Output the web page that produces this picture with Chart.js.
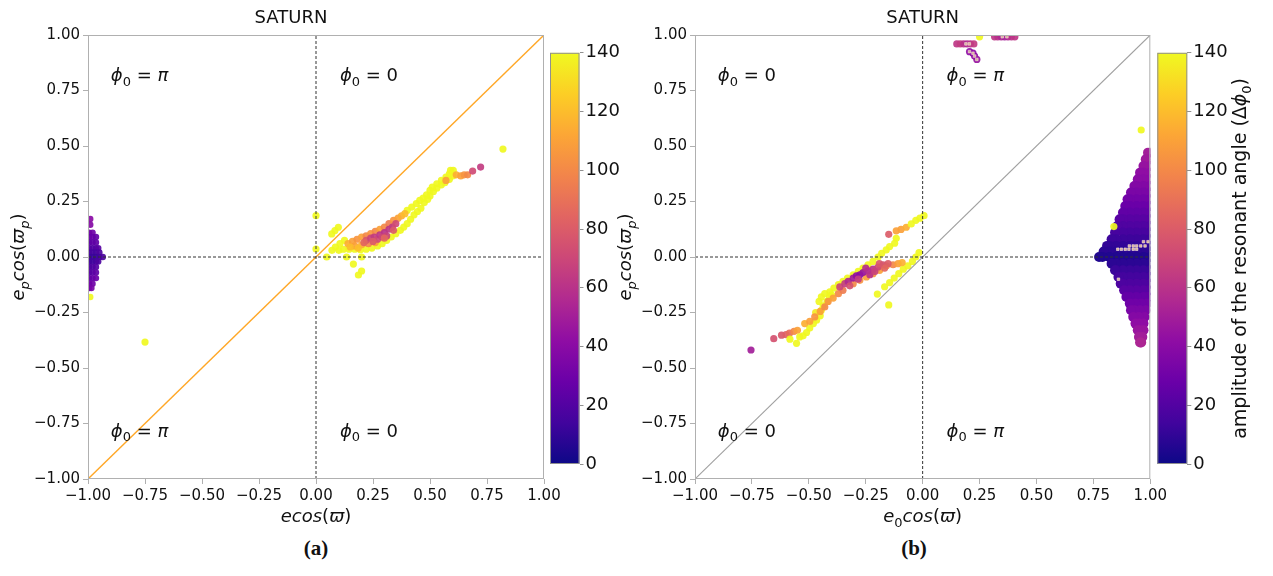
<!DOCTYPE html>
<html>
<head>
<meta charset="utf-8">
<script src="https://cdn.jsdelivr.net/npm/chart.js@4.4.1/dist/chart.umd.min.js"></script>
<style>
  body { margin: 0; background: #fff; width: 1273px; height: 576px; position: relative; overflow: hidden; }
  canvas { position: absolute; }
  .tag { position: absolute; top: 536px; font: bold 21px "Liberation Serif", serif; color: #111; transform: translateX(-50%); }
</style>
</head>
<body>
<canvas id="panelA" width="565" height="530" style="left:0;top:0;width:565px;height:530px"></canvas>
<canvas id="panelB" width="570" height="530" style="left:600px;top:0;width:570px;height:530px"></canvas>
<canvas id="barA" width="80" height="440" style="left:540px;top:40px;width:80px;height:440px"></canvas>
<canvas id="barB" width="126" height="440" style="left:1147px;top:40px;width:126px;height:440px"></canvas>
<div class="tag" style="left:316px">(a)</div>
<div class="tag" style="left:914px">(b)</div>
<script>
// axis ticks
const axisTicks = [-1, -0.75, -0.5, -0.25, 0, 0.25, 0.5, 0.75, 1];
const colorTicks = [0, 20, 40, 60, 80, 100, 120, 140];
const ampMax = 140;

// panel (a): [e cos(varpi), e_p cos(varpi_p), amplitude]
const aEdge = [
  [-0.99, 0.171, 40], [-0.99, 0.145, 38],
  [-0.995, 0.11, 32], [-0.98, 0.11, 30],
  [-0.995, 0.09, 28], [-0.98, 0.09, 28], [-0.965, 0.09, 26],
  [-0.995, 0.065, 25], [-0.98, 0.065, 24], [-0.965, 0.065, 24],
  [-0.995, 0.04, 22], [-0.98, 0.04, 20], [-0.965, 0.04, 20], [-0.955, 0.04, 22],
  [-0.995, 0.02, 18], [-0.98, 0.02, 16], [-0.965, 0.02, 15], [-0.95, 0.02, 18],
  [-0.995, 0.0, 15], [-0.98, 0.0, 12], [-0.965, 0.0, 12], [-0.95, 0.0, 14], [-0.935, 0.0, 18],
  [-0.995, -0.02, 16], [-0.98, -0.02, 14], [-0.965, -0.02, 15], [-0.955, -0.02, 18],
  [-0.995, -0.045, 20], [-0.98, -0.045, 18], [-0.965, -0.045, 20],
  [-0.995, -0.07, 23], [-0.98, -0.07, 22], [-0.965, -0.07, 24],
  [-0.995, -0.095, 26], [-0.98, -0.095, 26], [-0.965, -0.095, 28],
  [-0.995, -0.12, 30], [-0.98, -0.12, 30],
  [-0.995, -0.14, 34], [-0.985, -0.14, 33],
  [-0.99, -0.18, 140]
];
const aBand = [
  // outer (yellow)
  [0.10, 0.03, 140], [0.12, 0.035, 140], [0.145, 0.035, 140], [0.17, 0.035, 140], [0.195, 0.033, 140],
  [0.22, 0.035, 140], [0.245, 0.04, 140], [0.27, 0.05, 140], [0.29, 0.06, 140], [0.31, 0.075, 140],
  [0.33, 0.09, 140], [0.35, 0.105, 140], [0.37, 0.12, 140], [0.385, 0.135, 140], [0.40, 0.15, 140],
  [0.415, 0.17, 140], [0.43, 0.19, 140], [0.445, 0.205, 140], [0.46, 0.22, 140], [0.475, 0.245, 140],
  [0.49, 0.26, 140], [0.50, 0.275, 140], [0.515, 0.295, 140], [0.53, 0.31, 140], [0.55, 0.325, 140],
  [0.565, 0.335, 140], [0.585, 0.35, 140], [0.60, 0.365, 140], [0.602, 0.39, 140],
  [0.07, 0.03, 140], [0.085, 0.045, 140], [0.105, 0.06, 140], [0.125, 0.075, 140],
  [0.40, 0.21, 140], [0.42, 0.225, 140], [0.44, 0.24, 140], [0.455, 0.255, 140], [0.47, 0.265, 140],
  [0.485, 0.28, 140], [0.50, 0.30, 140], [0.51, 0.315, 140], [0.53, 0.33, 140], [0.55, 0.345, 140],
  [0.57, 0.36, 140], [0.585, 0.375, 140], [0.59, 0.39, 140],
  // orange
  [0.14, 0.06, 115], [0.16, 0.07, 110], [0.18, 0.08, 105], [0.20, 0.09, 110], [0.22, 0.095, 100],
  [0.24, 0.105, 105], [0.26, 0.115, 100], [0.28, 0.125, 110], [0.30, 0.135, 100], [0.32, 0.15, 95],
  [0.34, 0.165, 105], [0.36, 0.175, 110], [0.375, 0.185, 115], [0.39, 0.195, 120], [0.17, 0.05, 110],
  [0.20, 0.055, 115], [0.185, 0.04, 120], [0.23, 0.06, 100], [0.26, 0.065, 110], [0.15, 0.045, 120],
  [0.615, 0.37, 115], [0.635, 0.365, 110], [0.65, 0.37, 105], [0.665, 0.37, 100], [0.57, 0.345, 110],
  // core
  [0.22, 0.075, 78], [0.24, 0.085, 70], [0.255, 0.09, 65], [0.27, 0.08, 72], [0.28, 0.10, 62],
  [0.30, 0.11, 60], [0.31, 0.095, 68], [0.32, 0.125, 62], [0.335, 0.135, 65], [0.35, 0.15, 72],
  [0.25, 0.07, 80], [0.29, 0.09, 70], [0.21, 0.065, 85], [0.34, 0.12, 80], [0.30, 0.085, 85],
  [0.687, 0.387, 72], [0.722, 0.405, 65]
];
const aStray = [
  [0.82, 0.486, 140], [0.0, 0.186, 140], [0.0, 0.036, 140], [0.069, 0.104, 140], [0.083, 0.119, 140],
  [0.098, 0.134, 140], [0.047, 0.0, 140], [0.134, 0.0, 140], [0.164, -0.032, 140], [0.2, 0.0, 140],
  [0.2, -0.063, 140], [0.186, -0.081, 140], [-0.75, -0.383, 140]
];

// panel (b): [e0 cos(varpi), e_p cos(varpi_p), amplitude]
const bBand = [
  [-0.754, -0.419, 50], [-0.654, -0.368, 75],
  [-0.62, -0.352, 78], [-0.60, -0.35, 82], [-0.585, -0.343, 88], [-0.565, -0.335, 100], [-0.55, -0.33, 110],
  [-0.583, -0.37, 140], [-0.554, -0.389, 140], [-0.54, -0.36, 140], [-0.525, -0.355, 140], [-0.51, -0.34, 140],
  [-0.496, -0.32, 140], [-0.48, -0.30, 140], [-0.466, -0.285, 140], [-0.45, -0.265, 140], [-0.445, -0.24, 140],
  [-0.437, -0.22, 140], [-0.42, -0.20, 140], [-0.41, -0.18, 140], [-0.40, -0.17, 140],
  [-0.47, -0.25, 135], [-0.455, -0.20, 140], [-0.445, -0.18, 140], [-0.43, -0.165, 140], [-0.408, -0.157, 140],
  [-0.39, -0.14, 140], [-0.37, -0.124, 140], [-0.35, -0.11, 140], [-0.33, -0.095, 140], [-0.305, -0.08, 140],
  [-0.283, -0.065, 140], [-0.262, -0.05, 140], [-0.24, -0.035, 140], [-0.218, -0.02, 140], [-0.196, 0.0, 140],
  [-0.18, 0.017, 140], [-0.16, 0.032, 140], [-0.145, 0.047, 140], [-0.123, 0.062, 140],
  [-0.167, -0.134, 140], [-0.145, -0.115, 140], [-0.125, -0.095, 140], [-0.105, -0.075, 140], [-0.085, -0.055, 140],
  [-0.065, -0.04, 140], [-0.045, -0.02, 140], [-0.03, 0.0, 140], [-0.016, 0.02, 140], [-0.199, -0.167, 140],
  [-0.149, -0.216, 140],
  [-0.518, -0.30, 115], [-0.496, -0.29, 110], [-0.474, -0.27, 105], [-0.45, -0.245, 110], [-0.43, -0.225, 100],
  [-0.415, -0.20, 105], [-0.393, -0.185, 110], [-0.37, -0.165, 100], [-0.35, -0.15, 95], [-0.305, -0.12, 100],
  [-0.276, -0.105, 105], [-0.247, -0.09, 110], [-0.218, -0.075, 105], [-0.189, -0.06, 110], [-0.16, -0.04, 105],
  [-0.13, -0.035, 100], [-0.108, -0.03, 110], [-0.09, -0.025, 115],
  [-0.364, -0.135, 70], [-0.342, -0.12, 65], [-0.327, -0.11, 55], [-0.305, -0.095, 48], [-0.291, -0.085, 42],
  [-0.276, -0.08, 40], [-0.262, -0.07, 45], [-0.24, -0.062, 55], [-0.218, -0.055, 60], [-0.196, -0.045, 70],
  [-0.174, -0.035, 75], [-0.152, -0.03, 80], [-0.232, -0.08, 60], [-0.283, -0.10, 65], [-0.21, -0.065, 68],
  [-0.167, -0.05, 85], [-0.19, -0.03, 78], [-0.25, -0.05, 58], [-0.32, -0.13, 75],
  [-0.149, 0.102, 80], [-0.116, 0.118, 110], [-0.095, 0.124, 110], [-0.072, 0.134, 115], [-0.05, 0.149, 140],
  [-0.03, 0.165, 140], [-0.012, 0.175, 140], [0.006, 0.186, 140], [-0.116, 0.084, 140]
];
const bTop = [
  [0.15, 0.96, 62], [0.165, 0.96, 65], [0.18, 0.96, 60], [0.195, 0.96, 55], [0.21, 0.96, 60], [0.225, 0.96, 65],
  [0.206, 0.925, 42], [0.221, 0.918, 42], [0.228, 0.905, 42], [0.238, 0.89, 45],
  [0.25, 0.992, 140],
  [0.316, 0.992, 62], [0.33, 0.992, 60], [0.345, 0.992, 55], [0.36, 0.992, 50], [0.375, 0.992, 55],
  [0.39, 0.992, 60], [0.405, 0.992, 62]
];
const bExtra = [[0.96, 0.572, 140], [0.84, 0.137, 140]];
// right-edge wedge, one row per e_p cos value: [y, amplitude, x...]
const bEdgeRows = [
  [0.47, 50, 1.0, 0.99],
  [0.44, 48, 1.0, 0.98],
  [0.41, 45, 1.0, 0.97],
  [0.38, 42, 1.0, 0.97, 0.955],
  [0.35, 40, 1.0, 0.97, 0.945],
  [0.32, 37, 1.0, 0.97, 0.94, 0.93],
  [0.29, 34, 1.0, 0.97, 0.94, 0.915],
  [0.26, 31, 1.0, 0.97, 0.94, 0.91, 0.90],
  [0.23, 28, 1.0, 0.97, 0.94, 0.91, 0.89],
  [0.20, 25, 1.0, 0.97, 0.94, 0.91, 0.88],
  [0.17, 22, 1.0, 0.97, 0.94, 0.91, 0.88, 0.865],
  [0.14, 19, 1.0, 0.97, 0.94, 0.91, 0.88, 0.855],
  [0.11, 16, 1.0, 0.97, 0.94, 0.91, 0.88, 0.845],
  [0.08, 13, 1.0, 0.97, 0.94, 0.91, 0.88, 0.85, 0.83],
  [0.05, 10, 1.0, 0.97, 0.94, 0.91, 0.88, 0.85, 0.82, 0.81],
  [0.025, 8, 1.0, 0.97, 0.94, 0.91, 0.88, 0.85, 0.82, 0.795],
  [0.0, 5, 1.0, 0.97, 0.94, 0.91, 0.88, 0.85, 0.82, 0.79, 0.775],
  [-0.03, 8, 1.0, 0.97, 0.94, 0.91, 0.88, 0.85, 0.83],
  [-0.06, 12, 1.0, 0.97, 0.94, 0.91, 0.88, 0.85, 0.845],
  [-0.09, 15, 1.0, 0.97, 0.94, 0.91, 0.88, 0.86],
  [-0.12, 18, 1.0, 0.97, 0.94, 0.91, 0.88, 0.87],
  [-0.15, 22, 0.995, 0.97, 0.94, 0.91, 0.885],
  [-0.18, 26, 0.99, 0.97, 0.94, 0.91, 0.895],
  [-0.21, 30, 0.985, 0.96, 0.935, 0.91],
  [-0.24, 34, 0.98, 0.955, 0.93, 0.915],
  [-0.27, 38, 0.975, 0.95, 0.925],
  [-0.30, 42, 0.97, 0.95, 0.935],
  [-0.33, 46, 0.97, 0.955, 0.945],
  [-0.36, 50, 0.965, 0.95],
  [-0.385, 54, 0.96, 0.955]
];
const bMarks = [
  [0.97, 0.069], [0.99, 0.069], [0.908, 0.05], [0.925, 0.05], [0.94, 0.05], [0.958, 0.05], [0.977, 0.05],
  [0.857, 0.035], [0.873, 0.035], [0.89, 0.035], [0.906, 0.035], [0.925, 0.035], [0.94, 0.035], [0.86, -0.1],
  [0.19, 0.96], [0.205, 0.96], [0.206, 0.925], [0.221, 0.918], [0.228, 0.905], [0.238, 0.89],
  [0.35, 0.992], [0.37, 0.992]
];

// phi_0 labels: [x, y, value]
const aNotes = [[-0.9, 0.82, 'π'], [0.105, 0.82, '0'], [-0.9, -0.78, 'π'], [0.105, -0.78, '0']];
const bNotes = [[-0.9, 0.82, '0'], [0.105, 0.82, 'π'], [-0.9, -0.78, '0'], [0.105, -0.78, 'π']];

const plasmaStops = ['#0d0887', '#41049d', '#6a00a8', '#8f0da4', '#b12a90', '#cc4778',
                     '#e16462', '#f2844b', '#fca636', '#fcce25', '#f0f921'];

function hexRgb(h) {
  return [parseInt(h.slice(1, 3), 16), parseInt(h.slice(3, 5), 16), parseInt(h.slice(5, 7), 16)];
}
function plasma(v, alpha) {
  const t = Math.max(0, Math.min(1, v / ampMax)) * (plasmaStops.length - 1);
  const i = Math.min(Math.floor(t), plasmaStops.length - 2);
  const f = t - i;
  const a = hexRgb(plasmaStops[i]), b = hexRgb(plasmaStops[i + 1]);
  const c = a.map((x, k) => Math.round(x + (b[k] - x) * f));
  return 'rgba(' + c.join(',') + ',' + alpha + ')';
}

const FAM = '"DejaVu Sans"';
Chart.defaults.font.family = FAM;
Chart.defaults.color = '#111';

function drawRich(ctx, parts, x, y, size, align, angle) {
  const small = Math.round(size * 0.7);
  const fonts = {
    r: size + 'px ' + FAM,
    i: 'italic ' + size + 'px ' + FAM,
    sub: small + 'px ' + FAM,
    isub: 'italic ' + small + 'px ' + FAM
  };
  let total = 0;
  const widths = parts.map(p => {
    ctx.font = fonts[p[1]];
    const w = ctx.measureText(p[0]).width;
    total += w;
    return w;
  });
  ctx.save();
  ctx.translate(x, y);
  if (angle) ctx.rotate(angle);
  ctx.textAlign = 'left';
  ctx.textBaseline = 'alphabetic';
  ctx.fillStyle = '#111';
  let cx = align === 'left' ? 0 : -total / 2;
  parts.forEach((p, k) => {
    ctx.font = fonts[p[1]];
    const dy = (p[1] === 'sub' || p[1] === 'isub') ? size * 0.24 : 0;
    ctx.fillText(p[0], cx, size * 0.36 + dy);
    cx += widths[k];
  });
  ctx.restore();
}

const panelDecor = {
  id: 'panelDecor',
  afterDatasetsDraw(chart, args, opts) {
    const { ctx, chartArea: a, scales } = chart;
    ctx.save();
    ctx.strokeStyle = '#b0b0b0';
    ctx.lineWidth = 1;
    ctx.strokeRect(a.left + 0.5, a.top + 0.5, a.width - 1, a.height - 1);
    opts.notes.forEach(n => {
      drawRich(ctx, [['ϕ', 'i'], ['0', 'sub'], [' = ', 'r'], [n[2], /\d/.test(n[2]) ? 'r' : 'i']],
        scales.x.getPixelForValue(n[0]), scales.y.getPixelForValue(n[1]), 18, 'left');
    });
    const cx = (a.left + a.right) / 2;
    drawRich(ctx, [['SATURN', 'r']], cx + opts.titleShift, 17, 18);
    drawRich(ctx, opts.xLabel, cx, a.bottom + 37, 18);
    drawRich(ctx, opts.yLabel, a.left - 70, (a.top + a.bottom) / 2, 18, 'center', -Math.PI / 2);
    ctx.restore();
  }
};

function pointSet(rows, order, radius, alpha) {
  const r = radius || 3.6;
  return {
    data: rows.map(p => ({ x: p[0], y: p[1] })),
    pointBackgroundColor: rows.map(p => plasma(p[2], alpha || 0.92)),
    pointBorderWidth: 0,
    pointRadius: r,
    pointHoverRadius: r,
    showLine: false,
    clip: 0,
    order: order
  };
}
function lineSet(pts, color, dash, width, order) {
  return {
    data: pts,
    showLine: true,
    borderColor: color,
    borderWidth: width,
    borderDash: dash,
    pointRadius: 0,
    clip: 0,
    order: order
  };
}

function tickText(v) {
  return (v < 0 ? '\u2212' : '') + Math.abs(v).toFixed(2);
}
function axis(width) {
  const common = {
    type: 'linear', min: -1, max: 1,
    afterBuildTicks: s => { s.ticks = axisTicks.map(v => ({ value: v })); },
    ticks: { callback: tickText, font: { size: 15 }, color: '#111', padding: 3, maxRotation: 0, autoSkip: false },
    grid: { drawOnChartArea: false, tickLength: 5, color: '#b0b0b0' },
    border: { display: false }
  };
  return {
    x: Object.assign({}, common, { afterFit: s => { s.height = 51; } }),
    y: Object.assign({}, common, { afterFit: s => { s.width = width; } })
  };
}

function panel(id, datasets, yWidth, padRight, decor) {
  return new Chart(document.getElementById(id), {
    type: 'scatter',
    data: { datasets: datasets },
    options: {
      responsive: false,
      animation: false,
      events: [],
      layout: { padding: { left: 0, right: padRight, top: 35, bottom: 0 } },
      scales: axis(yWidth),
      plugins: { legend: { display: false }, tooltip: { enabled: false }, panelDecor: decor }
    },
    plugins: [panelDecor]
  });
}

const diag = [{ x: -1, y: -1 }, { x: 1, y: 1 }];
const vZero = [{ x: 0, y: -1 }, { x: 0, y: 1 }];
const hZero = [{ x: -1, y: 0 }, { x: 1, y: 0 }];
const yLab = [['e', 'i'], ['p', 'isub'], ['cos', 'i'], ['(', 'r'], ['ϖ', 'i'], ['p', 'isub'], [')', 'r']];

panel('panelA', [
  lineSet(vZero, '#333', [3, 2], 1, 0),
  lineSet(hZero, '#333', [3, 2], 1, 0),
  lineSet(diag, '#ffa726', [], 1.4, 0),
  pointSet(aStray, 1),
  pointSet(aBand, 2),
  pointSet(aEdge, 3, 3.2)
], 88, 21, {
  notes: aNotes, titleShift: -25,
  xLabel: [['ecos', 'i'], ['(', 'r'], ['ϖ', 'i'], [')', 'r']],
  yLabel: yLab
});

const bEdge = bEdgeRows.flatMap(r => r.slice(2).map(x => [x, r[0], r[1]]));
const markSet = {
  data: bMarks.map(m => ({ x: m[0], y: m[1] })),
  pointStyle: 'rect',
  pointRadius: 1.8,
  pointBackgroundColor: '#dcae9c',
  pointBorderColor: '#f4e4dc',
  pointBorderWidth: 0.6,
  showLine: false,
  clip: 0,
  order: 1
};

panel('panelB', [
  lineSet(vZero, '#333', [3, 2], 1, 0),
  lineSet(hZero, '#333', [3, 2], 1, 0),
  lineSet(diag, '#a0a0a0', [], 1.1, 0),
  markSet,
  pointSet(bExtra, 2),
  pointSet(bTop, 3),
  pointSet(bBand, 4),
  pointSet(bEdge, 5, 5, 1)
], 95, 19, {
  notes: bNotes, titleShift: 0,
  xLabel: [['e', 'i'], ['0', 'sub'], ['cos', 'i'], ['(', 'r'], ['ϖ', 'i'], [')', 'r']],
  yLabel: yLab
});

// colour bars
const barDecor = {
  id: 'barDecor',
  afterDatasetsDraw(chart, args, opts) {
    const { ctx, chartArea: a } = chart;
    ctx.save();
    ctx.strokeStyle = '#909090';
    ctx.lineWidth = 1;
    ctx.strokeRect(a.left + 0.5, a.top + 0.5, a.width - 1, a.height - 1);
    if (opts.label) {
      drawRich(ctx, opts.label, a.right + 52, (a.top + a.bottom) / 2, 19, 'center', -Math.PI / 2);
    }
    ctx.restore();
  }
};

function colorBar(id, padLeft, axisWidth, label) {
  return new Chart(document.getElementById(id), {
    type: 'bar',
    data: {
      labels: [''],
      datasets: [{
        data: [[0, ampMax]],
        backgroundColor: c => {
          const { ctx, chartArea } = c.chart;
          if (!chartArea) return 'transparent';
          const g = ctx.createLinearGradient(0, chartArea.bottom, 0, chartArea.top);
          plasmaStops.forEach((s, k) => g.addColorStop(k / (plasmaStops.length - 1), s));
          return g;
        },
        borderWidth: 0,
        barPercentage: 1,
        categoryPercentage: 1
      }]
    },
    options: {
      responsive: false,
      animation: false,
      events: [],
      layout: { padding: { left: padLeft, right: 0, top: 12.7, bottom: 16 } },
      scales: {
        x: { display: false },
        y: {
          position: 'right', min: 0, max: ampMax,
          afterBuildTicks: s => { s.ticks = colorTicks.map(v => ({ value: v })); },
          afterFit: s => { s.width = axisWidth; },
          ticks: { font: { size: 18 }, color: '#111', padding: 2 },
          grid: { drawOnChartArea: false, tickLength: 4, color: '#909090' },
          border: { display: false }
        }
      },
      plugins: { legend: { display: false }, tooltip: { enabled: false }, barDecor: { label: label } }
    },
    plugins: [barDecor]
  });
}

colorBar('barA', 10, 40.5, null);
colorBar('barB', 10.3, 85.7, [['amplitude of the resonant angle (Δ', 'r'], ['ϕ', 'i'], ['0', 'sub'], [')', 'r']]);
</script>
</body>
</html>
